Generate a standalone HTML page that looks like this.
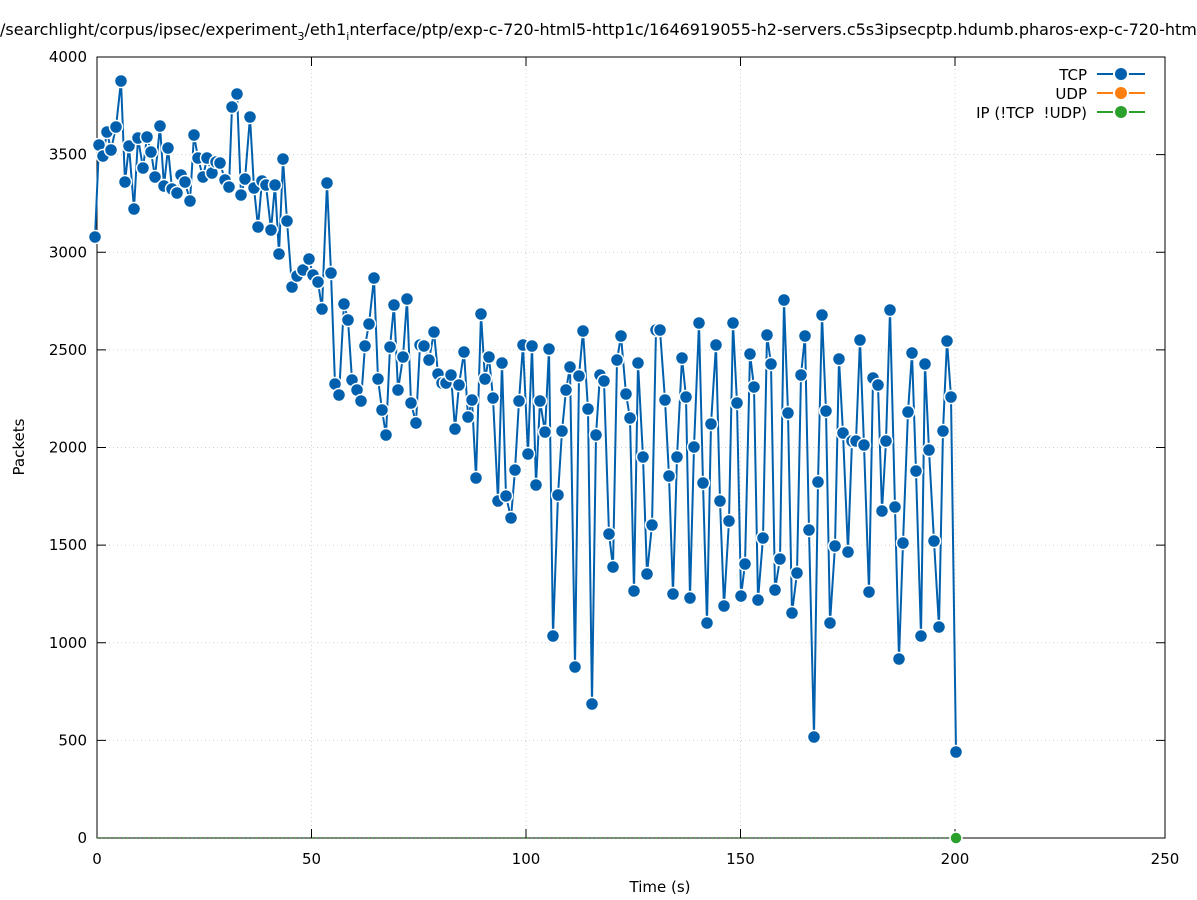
<!DOCTYPE html>
<html><head><meta charset="utf-8"><style>
html,body{margin:0;padding:0;background:#fff;}
svg{display:block;font-family:"DejaVu Sans","Liberation Sans",sans-serif;}
</style></head><body>
<svg id="s" width="1197" height="900" viewBox="0 0 1197 900" xmlns="http://www.w3.org/2000/svg">
<rect width="1197" height="900" fill="#fff"/>
<text x="0" y="35" font-size="16" fill="#000">/searchlight/corpus/ipsec/experiment<tspan font-size="11" dy="5">3</tspan><tspan dy="-5">/eth1</tspan><tspan font-size="11" dy="5">i</tspan><tspan dy="-5">nterface/ptp/exp-c-720-html5-http1c/1646919055-h2-servers.c5s3ipsecptp.hdumb.pharos-exp-c-720-html5-http1c</tspan></text>
<g id="grid" stroke="#d0d0d0" stroke-width="1" stroke-dasharray="1,3"></g>
<rect x="97" y="57" width="1068" height="781" fill="none" stroke="#000" stroke-width="1"/>
<g id="ticks" stroke="#000" stroke-width="1"></g>
<g id="labels" font-size="15" fill="#000"></g>
<text x="660" y="892" font-size="15" text-anchor="middle">Time (s)</text>
<text x="24" y="447" font-size="15" text-anchor="middle" transform="rotate(-90 24 447)">Packets</text>
<line x1="97" y1="838" x2="956" y2="838" stroke="#2ca02c" stroke-width="1.5" stroke-dasharray="1,3.3"/>
<g id="data"></g>
<circle cx="956" cy="838" r="6" fill="#2ca02c" stroke="#fff" stroke-width="1.5"/>
<g font-size="15" text-anchor="end">
<text x="1087" y="80">TCP</text>
<text x="1087" y="99">UDP</text>
<text x="1087" y="118" xml:space="preserve">IP (!TCP  !UDP)</text>
</g>
<g stroke-width="2">
<line x1="1097" y1="74" x2="1113" y2="74" stroke="#0060ad"/><line x1="1129" y1="74" x2="1145" y2="74" stroke="#0060ad"/>
<circle cx="1121" cy="74" r="6" fill="#0060ad" stroke="none"/>
<line x1="1097" y1="93" x2="1113" y2="93" stroke="#ff7f0e"/><line x1="1129" y1="93" x2="1145" y2="93" stroke="#ff7f0e"/>
<circle cx="1121" cy="93" r="6" fill="#ff7f0e" stroke="none"/>
<line x1="1097" y1="112" x2="1113" y2="112" stroke="#2ca02c"/><line x1="1129" y1="112" x2="1145" y2="112" stroke="#2ca02c"/>
<circle cx="1121" cy="112" r="6" fill="#2ca02c" stroke="none"/>
</g>
</svg>
<script>
var NS="http://www.w3.org/2000/svg";
function el(p,t,a,txt){var e=document.createElementNS(NS,t);for(var k in a)e.setAttribute(k,a[k]);if(txt!==undefined)e.textContent=txt;p.appendChild(e);return e;}
var g=document.getElementById('grid'),tk=document.getElementById('ticks'),lb=document.getElementById('labels');
for(var v=0;v<=4000;v+=500){var y=838-v*0.19525;
 if(v>0&&v<4000)el(g,'line',{x1:97,y1:y,x2:1165,y2:y});
 el(tk,'line',{x1:97,y1:y,x2:106,y2:y});el(tk,'line',{x1:1165,y1:y,x2:1156,y2:y});
 el(lb,'text',{x:87,y:y+5,'text-anchor':'end'},String(v));}
for(var t=0;t<=250;t+=50){var x=97+t*4.29;if(t==250)x=1165;
 if(t>0&&t<250)el(g,'line',{x1:x,y1:57,x2:x,y2:838});
 el(tk,'line',{x1:x,y1:838,x2:x,y2:829});el(tk,'line',{x1:x,y1:57,x2:x,y2:66});
 el(lb,'text',{x:x,y:864,'text-anchor':'middle'},String(t));}
var P=[[95,237],[99,145],[103,156],[107,132],[111,150],[116,127],[121,81],[125,182],[129,146],[134,209],[138,138],[143,168],[147,137],[151,152],[155,177],[160,126],[164,186],[168,148],[172,189],[177,193],[181,175],[185,182],[190,201],[194,135],[198,158],[203,177],[207,158],[212,173],[216,162],[220,163],[225,180],[229,187],[232,107],[237,94],[241,195],[245,179],[250,117],[254,188],[258,227],[262,181],[266,185],[271,230],[275,185],[279,254],[283,159],[287,221],[292,287],[297,276],[303,270],[309,259],[313,275],[318,282],[322,309],[327,183],[331,273],[335,384],[339,395],[344,304],[348,320],[352,380],[357,390],[361,401],[365,346],[369,324],[374,278],[378,379],[382,410],[386,435],[390,347],[394,305],[398,390],[403,357],[407,299],[411,403],[416,423],[420,345],[424,346],[429,360],[434,332],[438,374],[442,383],[446,383],[451,375],[455,429],[459,385],[464,352],[468,417],[472,400],[476,478],[481,314],[485,379],[489,357],[493,398],[498,501],[502,363],[506,496],[511,518],[515,470],[519,401],[523,345],[528,454],[532,346],[536,485],[540,401],[545,432],[549,349],[553,636],[558,495],[562,431],[566,390],[570,367],[575,667],[579,376],[583,331],[588,409],[592,704],[596,435],[600,375],[604,381],[609,534],[613,567],[617,360],[621,336],[626,394],[630,418],[634,591],[638,363],[643,457],[647,574],[652,525],[656,330],[660,330],[665,400],[669,476],[673,594],[677,457],[682,358],[686,397],[690,598],[694,447],[699,323],[703,483],[707,623],[711,424],[716,345],[720,501],[724,606],[729,521],[733,323],[737,403],[741,596],[745,564],[750,354],[754,387],[758,600],[763,538],[767,335],[771,364],[775,590],[780,559],[784,300],[788,413],[792,613],[797,573],[801,375],[805,336],[809,530],[814,737],[818,482],[822,315],[826,411],[830,623],[835,546],[839,359],[843,433],[848,552],[852,441],[856,441],[860,340],[864,445],[869,592],[873,378],[878,385],[882,511],[886,441],[890,310],[895,507],[899,659],[903,543],[908,412],[912,353],[916,471],[921,636],[925,364],[929,450],[934,541],[939,627],[943,431],[947,341],[951,397],[956,752]];
var d=document.getElementById('data');
el(d,'polyline',{points:P.map(function(p){return p.join(',')}).join(' '),fill:'none',stroke:'#0060ad','stroke-width':2,'stroke-linejoin':'round'});
P.forEach(function(p){el(d,'circle',{cx:p[0],cy:p[1],r:6.5,fill:'#0060ad',stroke:'#fff','stroke-width':1.5});});
</script>
</body></html>
